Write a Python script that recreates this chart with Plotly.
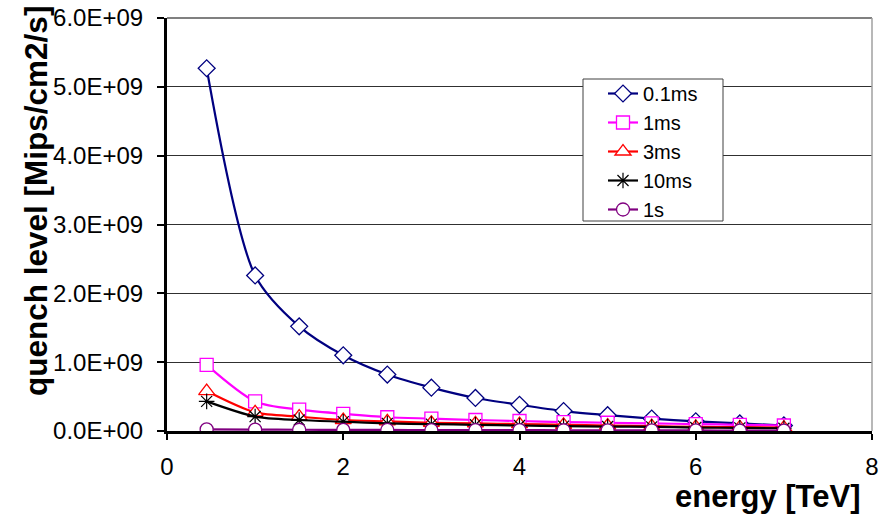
import plotly.graph_objects as go

energy = [0.45, 1.0, 1.5, 2.0, 2.5, 3.0, 3.5, 4.0, 4.5, 5.0, 5.5, 6.0, 6.5, 7.0]
q_01ms = [5.27e9, 2.26e9, 1.52e9, 1.10e9, 0.82e9, 0.63e9, 0.48e9, 0.38e9, 0.29e9, 0.23e9, 0.18e9, 0.14e9, 0.11e9, 0.08e9]
q_1ms = [0.96e9, 0.43e9, 0.31e9, 0.25e9, 0.20e9, 0.18e9, 0.16e9, 0.145e9, 0.13e9, 0.12e9, 0.11e9, 0.10e9, 0.09e9, 0.08e9]
q_3ms = [0.58e9, 0.27e9, 0.21e9, 0.16e9, 0.14e9, 0.12e9, 0.11e9, 0.10e9, 0.09e9, 0.08e9, 0.07e9, 0.06e9, 0.055e9, 0.05e9]
q_10ms = [0.43e9, 0.21e9, 0.16e9, 0.135e9, 0.11e9, 0.10e9, 0.09e9, 0.08e9, 0.07e9, 0.065e9, 0.06e9, 0.05e9, 0.045e9, 0.04e9]
q_1s = [0.025e9, 0.02e9, 0.018e9, 0.016e9, 0.015e9, 0.014e9, 0.013e9, 0.012e9, 0.011e9, 0.010e9, 0.009e9, 0.008e9, 0.007e9, 0.006e9]

series_names = ["0.1ms", "1ms", "3ms", "10ms", "1s"]
y_tickvals = [0, 1e9, 2e9, 3e9, 4e9, 5e9, 6e9]
y_ticktext = ["0.0E+00", "1.0E+09", "2.0E+09", "3.0E+09", "4.0E+09", "5.0E+09", "6.0E+09"]
x_tickvals = [0, 2, 4, 6, 8]
x_title = "energy [TeV]"
y_title = "quench level [Mips/cm2/s]"

FONT = "Arial, 'Liberation Sans', sans-serif"

W, H = 887, 514
L, T, R, B = 167, 18, 15, 83
PW, PH = W - L - R, H - T - B  # 705 x 413


def px(xp):  # window x -> paper fraction
    return (xp - L) / PW


def py(yp):  # window y -> paper fraction
    return (H - B - yp) / PH


styles = [
    dict(color="#000080", symbol="diamond", size=13),
    dict(color="#FF00FF", symbol="square", size=13),
    dict(color="#FF0000", symbol="triangle-up", size=14),
    dict(color="#000000", symbol="asterisk-open", size=13),
    dict(color="#800080", symbol="circle", size=13),
]
data = [q_01ms, q_1ms, q_3ms, q_10ms, q_1s]

fig = go.Figure()
for name, ys, st in zip(series_names, data, styles):
    if st["symbol"] == "asterisk-open":
        marker = dict(symbol="asterisk-open", size=st["size"],
                      line=dict(color=st["color"], width=1.2))
    else:
        marker = dict(symbol=st["symbol"], size=st["size"], color="white",
                      line=dict(color=st["color"], width=1.3))
    fig.add_trace(go.Scatter(
        x=energy, y=ys, name=name, mode="lines+markers",
        line=dict(color=st["color"], width=2.2, shape="spline", smoothing=0.8),
        marker=marker,
    ))

fig.update_layout(
    width=W, height=H,
    margin=dict(l=L, r=R, t=T, b=B),
    paper_bgcolor="white", plot_bgcolor="white",
    font=dict(family=FONT, size=24, color="black"),
    legend=dict(
        x=px(603), y=py(74), xanchor="left", yanchor="top",
        bgcolor="rgba(0,0,0,0)", borderwidth=0,
        font=dict(size=20), itemwidth=30, tracegroupgap=0,
    ),
    xaxis=dict(
        range=[0, 8], tickvals=x_tickvals, showgrid=False, automargin=False,
        showline=True, linecolor="black", linewidth=3,
        ticks="outside", ticklen=6, tickwidth=2, tickcolor="black",
        ticklabelstandoff=6, ticklabeloverflow="allow", zeroline=False,
    ),
    yaxis=dict(
        range=[0, 6e9], tickvals=y_tickvals, ticktext=y_ticktext, automargin=False,
        showgrid=True, gridcolor="#303030", gridwidth=1,
        showline=True, linecolor="black", linewidth=3,
        ticks="outside", ticklen=7, tickwidth=2, tickcolor="black",
        ticklabelstandoff=9, ticklabeloverflow="allow", zeroline=False,
    ),
    showlegend=True,
)

# axis titles placed as in the reference
fig.add_annotation(text="<b>" + x_title + "</b>", xref="paper", yref="paper",
                   x=px(862), y=py(497), showarrow=False,
                   font=dict(size=31), xanchor="right", yanchor="middle")
fig.add_annotation(text="<b>" + y_title + "</b>", xref="paper", yref="paper",
                   x=px(36), y=py(201), showarrow=False,
                   font=dict(size=31.5), textangle=-90, xanchor="center", yanchor="middle")

# legend box
fig.add_shape(type="rect", xref="paper", yref="paper",
              x0=px(583), x1=px(723), y0=py(221), y1=py(79),
              line=dict(color="#404040", width=1), fillcolor="white", layer="above")

# plot-area frame (top and right, gray)
fig.add_shape(type="line", xref="paper", yref="paper", x0=0, x1=1, y0=1, y1=1,
              line=dict(color="#808080", width=2))
fig.add_shape(type="line", xref="paper", yref="paper", x0=1, x1=1, y0=0, y1=1,
              line=dict(color="#A0A0A0", width=1.5))

fig.write_html("out.html", config={"displayModeBar": False},
               post_script="document.body.style.margin='0';document.body.style.overflow='hidden';")
